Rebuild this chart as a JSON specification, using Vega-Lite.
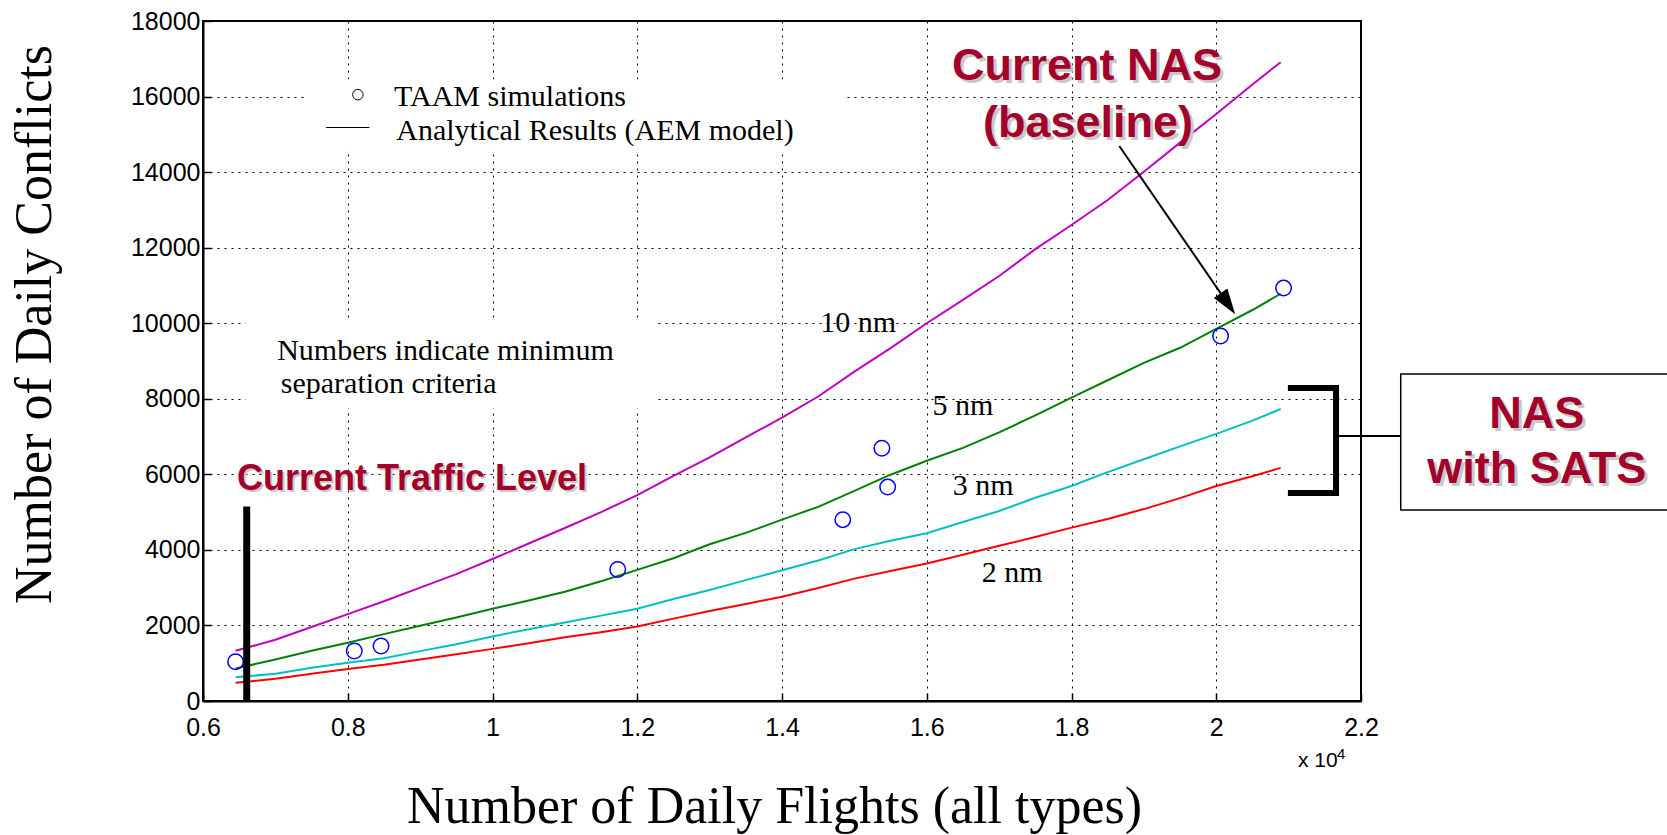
{
  "$schema": "https://vega.github.io/schema/vega-lite/v6.json",
  "width": 1158,
  "height": 680,
  "autosize": {"type": "none"},
  "padding": {"left": 203, "top": 21, "right": 306, "bottom": 134},
  "background": "white",
  "config": {
    "view": {"stroke": "black", "strokeWidth": 2},
    "axis": {
      "labelFont": "Liberation Sans",
      "labelFontSize": 25,
      "labelColor": "black",
      "labelFlush": false,
      "labelBound": false,
      "labelOverlap": false,
      "domainColor": "black",
      "domainWidth": 2,
      "ticks": true,
      "tickColor": "black",
      "tickWidth": 1.5,
      "tickSize": -8,
      "grid": true,
      "gridColor": "black",
      "gridOpacity": 1,
      "gridWidth": 1,
      "gridDash": [2, 5],
      "titleFont": "Liberation Serif",
      "titleFontWeight": "normal",
      "titleColor": "black"
    }
  },
  "datasets": {
    "curves": [
      {"flights": 0.645, "conflicts": 1330, "sep": "10 nm"},
      {"flights": 0.70, "conflicts": 1620, "sep": "10 nm"},
      {"flights": 0.75, "conflicts": 1960, "sep": "10 nm"},
      {"flights": 0.80, "conflicts": 2300, "sep": "10 nm"},
      {"flights": 0.85, "conflicts": 2640, "sep": "10 nm"},
      {"flights": 0.90, "conflicts": 3000, "sep": "10 nm"},
      {"flights": 0.95, "conflicts": 3360, "sep": "10 nm"},
      {"flights": 1.00, "conflicts": 3760, "sep": "10 nm"},
      {"flights": 1.05, "conflicts": 4170, "sep": "10 nm"},
      {"flights": 1.10, "conflicts": 4580, "sep": "10 nm"},
      {"flights": 1.15, "conflicts": 5000, "sep": "10 nm"},
      {"flights": 1.20, "conflicts": 5450, "sep": "10 nm"},
      {"flights": 1.25, "conflicts": 5960, "sep": "10 nm"},
      {"flights": 1.30, "conflicts": 6450, "sep": "10 nm"},
      {"flights": 1.35, "conflicts": 6980, "sep": "10 nm"},
      {"flights": 1.40, "conflicts": 7500, "sep": "10 nm"},
      {"flights": 1.45, "conflicts": 8060, "sep": "10 nm"},
      {"flights": 1.50, "conflicts": 8720, "sep": "10 nm"},
      {"flights": 1.55, "conflicts": 9340, "sep": "10 nm"},
      {"flights": 1.60, "conflicts": 10000, "sep": "10 nm"},
      {"flights": 1.65, "conflicts": 10620, "sep": "10 nm"},
      {"flights": 1.70, "conflicts": 11250, "sep": "10 nm"},
      {"flights": 1.75, "conflicts": 11960, "sep": "10 nm"},
      {"flights": 1.80, "conflicts": 12600, "sep": "10 nm"},
      {"flights": 1.85, "conflicts": 13260, "sep": "10 nm"},
      {"flights": 1.90, "conflicts": 14010, "sep": "10 nm"},
      {"flights": 1.95, "conflicts": 14780, "sep": "10 nm"},
      {"flights": 2.00, "conflicts": 15540, "sep": "10 nm"},
      {"flights": 2.05, "conflicts": 16320, "sep": "10 nm"},
      {"flights": 2.089, "conflicts": 16910, "sep": "10 nm"},

      {"flights": 0.645, "conflicts": 860, "sep": "5 nm"},
      {"flights": 0.70, "conflicts": 1100, "sep": "5 nm"},
      {"flights": 0.75, "conflicts": 1330, "sep": "5 nm"},
      {"flights": 0.80, "conflicts": 1540, "sep": "5 nm"},
      {"flights": 0.85, "conflicts": 1770, "sep": "5 nm"},
      {"flights": 0.90, "conflicts": 1990, "sep": "5 nm"},
      {"flights": 0.95, "conflicts": 2210, "sep": "5 nm"},
      {"flights": 1.00, "conflicts": 2440, "sep": "5 nm"},
      {"flights": 1.05, "conflicts": 2660, "sep": "5 nm"},
      {"flights": 1.10, "conflicts": 2890, "sep": "5 nm"},
      {"flights": 1.15, "conflicts": 3170, "sep": "5 nm"},
      {"flights": 1.20, "conflicts": 3470, "sep": "5 nm"},
      {"flights": 1.25, "conflicts": 3780, "sep": "5 nm"},
      {"flights": 1.30, "conflicts": 4150, "sep": "5 nm"},
      {"flights": 1.35, "conflicts": 4450, "sep": "5 nm"},
      {"flights": 1.40, "conflicts": 4800, "sep": "5 nm"},
      {"flights": 1.45, "conflicts": 5140, "sep": "5 nm"},
      {"flights": 1.50, "conflicts": 5560, "sep": "5 nm"},
      {"flights": 1.55, "conflicts": 5990, "sep": "5 nm"},
      {"flights": 1.60, "conflicts": 6360, "sep": "5 nm"},
      {"flights": 1.65, "conflicts": 6700, "sep": "5 nm"},
      {"flights": 1.70, "conflicts": 7110, "sep": "5 nm"},
      {"flights": 1.75, "conflicts": 7560, "sep": "5 nm"},
      {"flights": 1.80, "conflicts": 8030, "sep": "5 nm"},
      {"flights": 1.85, "conflicts": 8490, "sep": "5 nm"},
      {"flights": 1.90, "conflicts": 8950, "sep": "5 nm"},
      {"flights": 1.95, "conflicts": 9350, "sep": "5 nm"},
      {"flights": 2.00, "conflicts": 9850, "sep": "5 nm"},
      {"flights": 2.05, "conflicts": 10350, "sep": "5 nm"},
      {"flights": 2.089, "conflicts": 10780, "sep": "5 nm"},

      {"flights": 0.645, "conflicts": 630, "sep": "3 nm"},
      {"flights": 0.70, "conflicts": 720, "sep": "3 nm"},
      {"flights": 0.75, "conflicts": 880, "sep": "3 nm"},
      {"flights": 0.80, "conflicts": 1010, "sep": "3 nm"},
      {"flights": 0.85, "conflicts": 1130, "sep": "3 nm"},
      {"flights": 0.90, "conflicts": 1320, "sep": "3 nm"},
      {"flights": 0.95, "conflicts": 1500, "sep": "3 nm"},
      {"flights": 1.00, "conflicts": 1710, "sep": "3 nm"},
      {"flights": 1.05, "conflicts": 1900, "sep": "3 nm"},
      {"flights": 1.10, "conflicts": 2080, "sep": "3 nm"},
      {"flights": 1.15, "conflicts": 2260, "sep": "3 nm"},
      {"flights": 1.20, "conflicts": 2440, "sep": "3 nm"},
      {"flights": 1.25, "conflicts": 2700, "sep": "3 nm"},
      {"flights": 1.30, "conflicts": 2940, "sep": "3 nm"},
      {"flights": 1.35, "conflicts": 3200, "sep": "3 nm"},
      {"flights": 1.40, "conflicts": 3460, "sep": "3 nm"},
      {"flights": 1.45, "conflicts": 3720, "sep": "3 nm"},
      {"flights": 1.50, "conflicts": 4020, "sep": "3 nm"},
      {"flights": 1.55, "conflicts": 4240, "sep": "3 nm"},
      {"flights": 1.60, "conflicts": 4440, "sep": "3 nm"},
      {"flights": 1.65, "conflicts": 4740, "sep": "3 nm"},
      {"flights": 1.70, "conflicts": 5030, "sep": "3 nm"},
      {"flights": 1.75, "conflicts": 5380, "sep": "3 nm"},
      {"flights": 1.80, "conflicts": 5690, "sep": "3 nm"},
      {"flights": 1.85, "conflicts": 6060, "sep": "3 nm"},
      {"flights": 1.90, "conflicts": 6400, "sep": "3 nm"},
      {"flights": 1.95, "conflicts": 6740, "sep": "3 nm"},
      {"flights": 2.00, "conflicts": 7070, "sep": "3 nm"},
      {"flights": 2.05, "conflicts": 7420, "sep": "3 nm"},
      {"flights": 2.089, "conflicts": 7730, "sep": "3 nm"},

      {"flights": 0.645, "conflicts": 480, "sep": "2 nm"},
      {"flights": 0.70, "conflicts": 590, "sep": "2 nm"},
      {"flights": 0.75, "conflicts": 720, "sep": "2 nm"},
      {"flights": 0.80, "conflicts": 850, "sep": "2 nm"},
      {"flights": 0.85, "conflicts": 960, "sep": "2 nm"},
      {"flights": 0.90, "conflicts": 1100, "sep": "2 nm"},
      {"flights": 0.95, "conflicts": 1240, "sep": "2 nm"},
      {"flights": 1.00, "conflicts": 1380, "sep": "2 nm"},
      {"flights": 1.05, "conflicts": 1530, "sep": "2 nm"},
      {"flights": 1.10, "conflicts": 1690, "sep": "2 nm"},
      {"flights": 1.15, "conflicts": 1820, "sep": "2 nm"},
      {"flights": 1.20, "conflicts": 1970, "sep": "2 nm"},
      {"flights": 1.25, "conflicts": 2180, "sep": "2 nm"},
      {"flights": 1.30, "conflicts": 2380, "sep": "2 nm"},
      {"flights": 1.35, "conflicts": 2570, "sep": "2 nm"},
      {"flights": 1.40, "conflicts": 2760, "sep": "2 nm"},
      {"flights": 1.45, "conflicts": 2990, "sep": "2 nm"},
      {"flights": 1.50, "conflicts": 3240, "sep": "2 nm"},
      {"flights": 1.55, "conflicts": 3440, "sep": "2 nm"},
      {"flights": 1.60, "conflicts": 3640, "sep": "2 nm"},
      {"flights": 1.65, "conflicts": 3870, "sep": "2 nm"},
      {"flights": 1.70, "conflicts": 4110, "sep": "2 nm"},
      {"flights": 1.75, "conflicts": 4340, "sep": "2 nm"},
      {"flights": 1.80, "conflicts": 4590, "sep": "2 nm"},
      {"flights": 1.85, "conflicts": 4820, "sep": "2 nm"},
      {"flights": 1.90, "conflicts": 5080, "sep": "2 nm"},
      {"flights": 1.95, "conflicts": 5370, "sep": "2 nm"},
      {"flights": 2.00, "conflicts": 5690, "sep": "2 nm"},
      {"flights": 2.05, "conflicts": 5950, "sep": "2 nm"},
      {"flights": 2.089, "conflicts": 6170, "sep": "2 nm"}
    ],
    "taam": [
      {"flights": 0.645, "conflicts": 1040},
      {"flights": 0.809, "conflicts": 1322},
      {"flights": 0.846, "conflicts": 1454},
      {"flights": 1.173, "conflicts": 3480},
      {"flights": 1.484, "conflicts": 4800},
      {"flights": 1.538, "conflicts": 6690},
      {"flights": 1.546, "conflicts": 5662},
      {"flights": 2.006, "conflicts": 9660},
      {"flights": 2.093, "conflicts": 10930}
    ],
    "blankAreas": [
      {"flights": 0.74, "flights2": 1.487, "conflicts": 14590, "conflicts2": 16460},
      {"flights": 0.659, "flights2": 1.227, "conflicts": 7750, "conflicts2": 10070}
    ],
    "sepLabels": [
      {"flights": 1.453, "conflicts": 10000, "text": "10 nm"},
      {"flights": 1.608, "conflicts": 7800, "text": "5 nm"},
      {"flights": 1.636, "conflicts": 5700, "text": "3 nm"},
      {"flights": 1.676, "conflicts": 3380, "text": "2 nm"}
    ],
    "notes": [
      {"flights": 0.864, "conflicts": 15739, "text": "TAAM simulations"},
      {"flights": 0.867, "conflicts": 14853, "text": "Analytical Results (AEM model)"},
      {"flights": 0.7025, "conflicts": 9030, "text": "Numbers indicate minimum"},
      {"flights": 0.7075, "conflicts": 8140, "text": "separation criteria"}
    ],
    "callouts": [
      {"flights": 1.8214, "conflicts": 16438, "text": "Current NAS"},
      {"flights": 1.8228, "conflicts": 14929, "text": "(baseline)"},
      {"flights": 2.4428, "conflicts": 7219, "text": "NAS"},
      {"flights": 2.4428, "conflicts": 5763, "text": "with SATS"}
    ],
    "trafficLabel": [
      {"flights": 0.647, "conflicts": 5585, "text": "Current Traffic Level"}
    ]
  },
  "encoding": {
    "x": {
      "field": "flights",
      "type": "quantitative",
      "scale": {"domain": [0.6, 2.2], "nice": false, "zero": false},
      "title": "Number of Daily Flights (all types)",
      "axis": {
        "values": [0.6, 0.8, 1, 1.2, 1.4, 1.6, 1.8, 2, 2.2],
        "format": "~g",
        "labelPadding": 22,
        "titleFontSize": 52,
        "titleX": 571,
        "titleY": 121,
        "titleAlign": "center",
        "titleBaseline": "alphabetic"
      }
    },
    "y": {
      "field": "conflicts",
      "type": "quantitative",
      "scale": {"domain": [0, 18000], "nice": false},
      "title": "Number of Daily Conflicts",
      "axis": {
        "values": [0, 2000, 4000, 6000, 8000, 10000, 12000, 14000, 16000, 18000],
        "format": "d",
        "labelPadding": 11,
        "titleFontSize": 52,
        "titleAngle": 270,
        "titleX": -153,
        "titleY": 303,
        "titleAlign": "center",
        "titleBaseline": "alphabetic"
      }
    }
  },
  "layer": [
    {
      "data": {"name": "blankAreas"},
      "mark": {"type": "rect", "fill": "white", "stroke": null},
      "encoding": {"x2": {"field": "flights2"}, "y2": {"field": "conflicts2"}}
    },
    {
      "data": {"name": "curves"},
      "mark": {"type": "line", "strokeWidth": 2},
      "encoding": {
        "color": {
          "field": "sep",
          "type": "nominal",
          "scale": {"domain": ["10 nm", "5 nm", "3 nm", "2 nm"], "range": ["#c000c0", "#008000", "#00c0c0", "#ff0000"]},
          "legend": null
        }
      }
    },
    {
      "data": {"name": "taam"},
      "mark": {"type": "point", "shape": "circle", "filled": false, "stroke": "#0000ff", "strokeWidth": 1.5, "size": 240, "opacity": 1}
    },
    {
      "data": {"values": [{"flights": 0.6604, "conflicts": 0, "conflicts2": 5150}]},
      "mark": {"type": "rule", "color": "black", "strokeWidth": 7},
      "encoding": {"y2": {"field": "conflicts2"}}
    },
    {
      "data": {"values": [
        {"flights": 2.099, "conflicts": 8285, "step": 1},
        {"flights": 2.1655, "conflicts": 8285, "step": 2},
        {"flights": 2.1655, "conflicts": 5506, "step": 3},
        {"flights": 2.099, "conflicts": 5506, "step": 4}
      ]},
      "mark": {"type": "line", "color": "black", "strokeWidth": 6, "strokeJoin": "miter", "strokeCap": "butt"},
      "encoding": {"order": {"field": "step", "type": "quantitative"}}
    },
    {
      "data": {"values": [{"flights": 2.1655, "flights2": 2.2549, "conflicts": 7015}]},
      "mark": {"type": "rule", "color": "black", "strokeWidth": 2},
      "encoding": {"x2": {"field": "flights2"}}
    },
    {
      "data": {"values": [{"flights": 2.2549, "flights2": 2.64, "conflicts": 8656, "conflicts2": 5056}]},
      "mark": {"type": "rect", "fill": "white", "stroke": "black", "strokeWidth": 1.5},
      "encoding": {"x2": {"field": "flights2"}, "y2": {"field": "conflicts2"}}
    },
    {
      "data": {"values": [{"flights": 1.866, "conflicts": 14690, "flights2": 2.0143, "conflicts2": 10566}]},
      "mark": {"type": "rule", "color": "black", "strokeWidth": 2},
      "encoding": {"x2": {"field": "flights2"}, "y2": {"field": "conflicts2"}}
    },
    {
      "data": {"values": [{"flights": 2.0143, "conflicts": 10566}]},
      "mark": {"type": "point", "shape": "M0,-1L0.55,0.7L-0.55,0.7Z", "filled": true, "fill": "black", "stroke": null, "size": 900, "angle": 145, "opacity": 1}
    },
    {
      "data": {"values": [{"flights": 0.814, "conflicts": 16050}]},
      "mark": {"type": "point", "shape": "circle", "filled": false, "stroke": "black", "strokeWidth": 1, "size": 110, "opacity": 1}
    },
    {
      "data": {"values": [{"flights": 0.770, "flights2": 0.830, "conflicts": 15181}]},
      "mark": {"type": "rule", "color": "black", "strokeWidth": 1.2},
      "encoding": {"x2": {"field": "flights2"}}
    },
    {
      "data": {"name": "notes"},
      "mark": {"type": "text", "font": "Liberation Serif", "fontSize": 30, "align": "left", "baseline": "alphabetic", "color": "black"},
      "encoding": {"text": {"field": "text"}}
    },
    {
      "data": {"name": "sepLabels"},
      "mark": {"type": "text", "font": "Liberation Serif", "fontSize": 30, "align": "left", "baseline": "middle", "color": "black"},
      "encoding": {"text": {"field": "text"}}
    },
    {
      "data": {"name": "trafficLabel"},
      "mark": {"type": "text", "font": "Liberation Sans", "fontWeight": "bold", "fontSize": 36, "align": "left", "baseline": "alphabetic", "color": "#c8c8c8", "dx": 2, "dy": 2},
      "encoding": {"text": {"field": "text"}}
    },
    {
      "data": {"name": "trafficLabel"},
      "mark": {"type": "text", "font": "Liberation Sans", "fontWeight": "bold", "fontSize": 36, "align": "left", "baseline": "alphabetic", "color": "#a3002b"},
      "encoding": {"text": {"field": "text"}}
    },
    {
      "data": {"name": "callouts"},
      "mark": {"type": "text", "font": "Liberation Sans", "fontWeight": "bold", "fontSize": 45, "align": "center", "baseline": "alphabetic", "color": "#c8c8c8", "dx": 3, "dy": 3},
      "encoding": {"text": {"field": "text"}}
    },
    {
      "data": {"name": "callouts"},
      "mark": {"type": "text", "font": "Liberation Sans", "fontWeight": "bold", "fontSize": 45, "align": "center", "baseline": "alphabetic", "color": "#a3002b"},
      "encoding": {"text": {"field": "text"}}
    },
    {
      "data": {"values": [{"flights": 2.113, "conflicts": -1739, "text": "x 10"}]},
      "mark": {"type": "text", "font": "Liberation Sans", "fontSize": 21, "align": "left", "baseline": "alphabetic", "color": "black"},
      "encoding": {"text": {"field": "text"}}
    },
    {
      "data": {"values": [{"flights": 2.167, "conflicts": -1535, "text": "4"}]},
      "mark": {"type": "text", "font": "Liberation Sans", "fontSize": 15, "align": "left", "baseline": "alphabetic", "color": "black"},
      "encoding": {"text": {"field": "text"}}
    }
  ]
}
